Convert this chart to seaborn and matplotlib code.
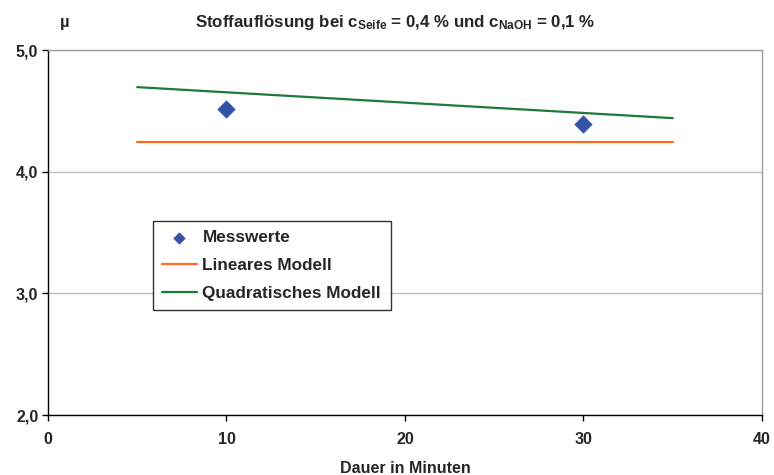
import matplotlib
matplotlib.use("Agg")
import matplotlib.pyplot as plt
import seaborn as sns
import pandas as pd
from matplotlib.ticker import FuncFormatter

sns.set_theme(style="white")
plt.rcParams['font.family'] = ['Liberation Sans', 'DejaVu Sans']
plt.rcParams['font.weight'] = 'bold'
plt.rcParams['mathtext.fontset'] = 'custom'
plt.rcParams['mathtext.rm'] = 'Liberation Sans:bold'
plt.rcParams['mathtext.bf'] = 'Liberation Sans:bold'
plt.rcParams['mathtext.it'] = 'Liberation Sans:bold'

# data
mess_x = [10, 30]
mess_y = [4.515, 4.39]
model_x = [5, 35]
linear_y = [4.24, 4.24]
quad_y = [4.695, 4.44]

df_mess = pd.DataFrame({"x": mess_x, "y": mess_y})
df_lin = pd.DataFrame({"x": model_x, "y": linear_y})
df_quad = pd.DataFrame({"x": model_x, "y": quad_y})

fig = plt.figure(figsize=(7.74, 4.75), dpi=100)
ax = fig.add_axes([0.062, 0.1263, 0.9225, 0.7684])

sns.scatterplot(data=df_mess, x="x", y="y", ax=ax, marker="D", s=75,
                color="#3352A3", edgecolor="#3352A3", label="Messwerte", zorder=4)
sns.lineplot(data=df_lin, x="x", y="y", ax=ax, color="#FF6A1F", lw=1.6,
             label="Lineares Modell", zorder=3)
sns.lineplot(data=df_quad, x="x", y="y", ax=ax, color="#1D7A3A", lw=1.6,
             label="Quadratisches Modell", zorder=3)

ax.set_xlim(0, 40)
ax.set_ylim(2.0, 5.0)
ax.set_xticks([0, 10, 20, 30, 40])
ax.set_yticks([2.0, 3.0, 4.0, 5.0])
ax.yaxis.set_major_formatter(FuncFormatter(lambda v, p: f"{v:.1f}".replace(".", ",")))
ax.tick_params(axis="both", labelsize=11.5, direction="out", length=4, width=1,
               color="black", bottom=True, left=True)
for lab in ax.get_xticklabels() + ax.get_yticklabels():
    lab.set_fontweight("bold")
ax.tick_params(axis="x", pad=8)
ax.tick_params(axis="y", pad=3)

ax.grid(axis="y", color="#BFBFBF", lw=1)
ax.set_axisbelow(True)
for s in ["top", "right"]:
    ax.spines[s].set_color("#A0A0A0")
    ax.spines[s].set_linewidth(1)
for s in ["left", "bottom"]:
    ax.spines[s].set_color("black")
    ax.spines[s].set_linewidth(1)

ax.set_xlabel("Dauer in Minuten", fontsize=11.5, fontweight="bold", labelpad=10)
ax.set_ylabel("")

fig.text(0.084, 0.952, "µ", fontsize=12, fontweight="bold", ha="center", va="center")
fig.text(0.51, 0.952,
         r"Stoffauflösung bei c$_{\mathbf{Seife}}$ = 0,4 % und c$_{\mathbf{NaOH}}$ = 0,1 %",
         fontsize=12.2, fontweight="bold", ha="center", va="center")

leg = ax.legend(loc="upper left", bbox_to_anchor=(0.147, 0.532), frameon=True,
                fancybox=False, edgecolor="black", fontsize=12.3, handlelength=2.0,
                handletextpad=0.35, labelspacing=0.75, borderpad=0.55,
                markerscale=0.65, borderaxespad=0)
leg.get_frame().set_linewidth(1)
for t in leg.get_texts():
    t.set_fontweight("bold")

fig.savefig("out.png", dpi=100)
